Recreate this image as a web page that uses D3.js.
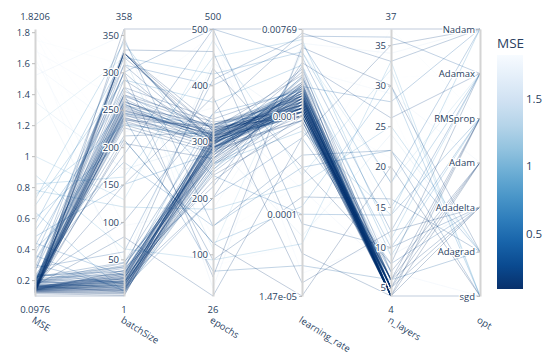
<!DOCTYPE html>
<html>
<head>
<meta charset="utf-8">
<script src="https://cdn.jsdelivr.net/npm/d3@7"></script>
<style>
  body { margin: 0; background: #fff; }
  text { font-family: "Open Sans", verdana, arial, sans-serif; fill: #2a3f5f; }
  .halo { paint-order: stroke; stroke: #fff; stroke-width: 2.5px; stroke-linejoin: round; }
</style>
</head>
<body>
<svg id="chart" width="550" height="355"></svg>
<script>
const dimensions = ["MSE", "batchSize", "epochs", "learning_rate", "n_layers", "opt"];
const optimizers = ["sgd", "Adagrad", "Adadelta", "Adam", "RMSprop", "Adamax", "Nadam"];
const lrTicks = [1.47e-05, 0.0001, 0.001, 0.00769];
const lrTickText = ["1.47e-05", "0.0001", "0.001", "0.00769"];
const colorbarTicks = [0.5, 1, 1.5];

// one entry per trial, same order in every array
const mse = [
  0.0976, 0.112, 0.118, 0.121, 0.124, 0.126, 0.128, 0.130, 0.131, 0.133,
  0.134, 0.135, 0.136, 0.137, 0.138, 0.139, 0.140, 0.141, 0.142, 0.143,
  0.144, 0.145, 0.146, 0.147, 0.148, 0.149, 0.150, 0.152, 0.154, 0.155,
  0.157, 0.158, 0.160, 0.162, 0.164, 0.166, 0.168, 0.170, 0.173, 0.176,
  0.180, 0.183, 0.186, 0.190, 0.194, 0.198, 0.205, 0.212, 0.220, 0.230,
  0.105, 0.115, 0.120, 0.125, 0.128, 0.130, 0.132, 0.134, 0.136, 0.138,
  0.140, 0.142, 0.144, 0.146, 0.148, 0.150, 0.152, 0.155, 0.158, 0.160,
  0.163, 0.166, 0.170, 0.174, 0.178, 0.182, 0.186, 0.190, 0.195, 0.200,
  0.135, 0.140, 0.145, 0.125, 0.150, 0.130, 0.160, 0.120, 0.175, 0.210,
  0.22, 0.24, 0.26, 0.28, 0.30, 0.33, 0.36, 0.40, 0.44, 0.48,
  0.52, 0.56, 0.60, 0.64, 0.68, 0.72, 0.75, 0.78, 0.82, 0.88,
  0.115, 0.125, 0.135, 0.145, 0.155, 0.165, 0.175, 0.185, 0.195, 0.21,
  0.23, 0.25, 0.28, 0.32, 0.36, 0.42, 1.00, 1.20, 1.35, 1.45,
  1.52, 1.58, 1.63, 1.68, 1.72, 1.75, 1.78, 1.80, 1.81, 1.8206
];
const batchSize = [
  1, 2, 4, 5, 6, 8, 8, 10, 10, 12,
  12, 14, 15, 16, 16, 18, 18, 20, 20, 22,
  22, 24, 24, 25, 26, 28, 28, 30, 30, 32,
  8, 12, 16, 20, 24, 6, 14, 18, 26, 32,
  35, 38, 40, 42, 45, 10, 20, 30, 46, 34,
  326, 326, 326, 240, 250, 235, 260, 245, 255, 265,
  230, 248, 238, 270, 252, 326, 242, 258, 236, 262,
  226, 246, 254, 268, 326, 280, 300, 215, 232, 244,
  256, 290, 310, 320, 205, 249, 326, 239, 275, 261,
  40, 18, 270, 300, 12, 245, 310, 180, 28, 150,
  258, 320, 210, 6, 290, 340, 230, 120, 160, 64,
  358, 210, 35, 300, 150, 80, 330, 20, 270, 100,
  190, 345, 60, 240, 8, 280, 130, 320, 170, 45,
  350, 220, 95, 260, 15, 310, 140, 200, 75, 250
];
const epochs = [
  310, 295, 280, 300, 320, 270, 290, 305, 285, 315,
  260, 298, 275, 310, 250, 288, 302, 240, 295, 318,
  265, 282, 308, 292, 230, 300, 276, 312, 286, 296,
  255, 304, 270, 290, 325, 245, 280, 300, 315, 268,
  290, 220, 305, 285, 330, 275, 298, 310, 262, 288,
  320, 305, 330, 298, 312, 290, 325, 308, 315, 300,
  285, 318, 295, 335, 310, 300, 322, 290, 328, 306,
  280, 314, 302, 326, 296, 340, 288, 316, 304, 292,
  330, 310, 300, 320, 270, 312, 298, 306, 324, 316,
  290, 260, 310, 500, 200, 330, 400, 150, 350, 280,
  300, 420, 120, 250, 370, 260, 310, 180, 450, 90,
  500, 120, 430, 60, 380, 26, 460, 200, 90, 350,
  500, 150, 410, 70, 320, 240, 480, 110, 300, 440,
  40, 360, 180, 490, 260, 130, 400, 80, 340, 220
];
const learningRate = [
  0.0012, 0.0015, 0.0010, 0.0018, 0.0013, 0.0021, 0.0011, 0.0016, 0.0009, 0.0014,
  0.0017, 0.0012, 0.0025, 0.0010, 0.0019, 0.0013, 0.0015, 0.0008, 0.0020, 0.0011,
  0.0014, 0.0016, 0.0012, 0.0028, 0.0010, 0.0017, 0.0013, 0.0015, 0.0022, 0.0011,
  0.0019, 0.0012, 0.0014, 0.0009, 0.0016, 0.0013, 0.0024, 0.0011, 0.0018, 0.0015,
  0.0012, 0.0032, 0.0010, 0.0014, 0.0017, 0.0020, 0.0013, 0.0016, 0.0011, 0.0015,
  0.0013, 0.0011, 0.0016, 0.0012, 0.0019, 0.0014, 0.0010, 0.0017, 0.0013, 0.0022,
  0.0015, 0.0012, 0.0018, 0.0011, 0.0014, 0.0016, 0.0026, 0.0012, 0.0015, 0.0010,
  0.0020, 0.0013, 0.0017, 0.0011, 0.0014, 0.0019, 0.0012, 0.0016, 0.0030, 0.0013,
  0.0015, 0.0011, 0.0018, 0.0014, 0.0021, 0.0012, 0.0016, 0.0013, 0.0010, 0.0017,
  0.0015, 0.0009, 0.0021, 0.004, 0.0006, 0.0012, 0.0055, 0.0003, 0.0018, 0.0025,
  0.0011, 0.0045, 0.00012, 0.0014, 0.0033, 0.0007, 0.0019, 0.0002, 0.006, 0.00005,
  0.00769, 1.47e-05, 0.0003, 0.005, 0.00002, 0.0006, 0.00004, 0.0035, 0.00015, 0.007,
  0.00008, 0.0004, 0.0065, 0.00003, 0.002, 0.0001, 0.00025, 0.0045, 0.00006, 0.0008,
  0.0055, 0.00018, 0.003, 0.000025, 0.0012, 0.0002, 0.006, 0.00005, 0.0004, 0.0024
];
const nLayers = [
  4, 5, 4, 4, 5, 6, 4, 5, 4, 4,
  5, 4, 6, 4, 5, 4, 4, 5, 4, 6,
  4, 5, 4, 4, 7, 5, 4, 4, 5, 4,
  6, 4, 5, 4, 4, 5, 4, 6, 4, 5,
  4, 5, 4, 4, 5, 4, 6, 4, 5, 4,
  4, 5, 4, 4, 5, 4, 6, 4, 5, 4,
  4, 5, 4, 6, 4, 4, 5, 4, 4, 5,
  6, 4, 4, 5, 4, 4, 5, 4, 7, 4,
  5, 4, 4, 6, 4, 5, 4, 4, 5, 4,
  5, 6, 4, 12, 8, 5, 18, 22, 7, 10,
  4, 15, 30, 6, 9, 14, 5, 25, 11, 33,
  37, 20, 8, 30, 12, 35, 4, 26, 16, 33,
  10, 22, 36, 6, 28, 14, 32, 18, 24, 9,
  34, 7, 29, 11, 21, 37, 13, 27, 19, 31
];
// index into optimizers
const opt = [
  3, 4, 3, 3, 4, 3, 4, 3, 3, 4,
  3, 2, 3, 4, 3, 3, 4, 3, 4, 3,
  3, 4, 3, 2, 3, 4, 3, 3, 4, 3,
  4, 3, 3, 4, 3, 2, 3, 4, 3, 3,
  4, 3, 3, 4, 3, 3, 2, 4, 3, 3,
  4, 3, 3, 4, 3, 3, 4, 3, 3, 2,
  3, 4, 3, 3, 4, 3, 3, 4, 3, 3,
  2, 3, 4, 3, 3, 4, 3, 3, 3, 4,
  3, 3, 4, 3, 2, 3, 4, 3, 3, 4,
  3, 4, 3, 5, 2, 4, 6, 1, 3, 4,
  3, 5, 0, 2, 4, 6, 3, 1, 5, 0,
  6, 0, 5, 1, 2, 6, 0, 5, 1, 6,
  2, 0, 5, 1, 6, 4, 0, 5, 1, 2,
  6, 0, 3, 5, 1, 4, 6, 0, 2, 5
];

const yTop = 29, yBottom = 296;
const lineOpacity = 0.25;
const svg = d3.select("#chart");

const x = d3.scalePoint().domain(dimensions).range([35, 480]);

const columns = {
  MSE: mse,
  batchSize: batchSize,
  epochs: epochs,
  learning_rate: learningRate,
  n_layers: nLayers,
  opt: opt
};

const y = {
  MSE: d3.scaleLinear().domain(d3.extent(mse)).range([yBottom, yTop]),
  batchSize: d3.scaleLinear().domain(d3.extent(batchSize)).range([yBottom, yTop]),
  epochs: d3.scaleLinear().domain(d3.extent(epochs)).range([yBottom, yTop]),
  learning_rate: d3.scaleLog().domain(d3.extent(learningRate)).range([yBottom, yTop]),
  n_layers: d3.scaleLinear().domain(d3.extent(nLayers)).range([yBottom, yTop]),
  opt: d3.scaleLinear().domain([0, optimizers.length - 1]).range([yBottom, yTop])
};

const color = d3.scaleSequential(t => d3.interpolateBlues(1 - t)).domain(d3.extent(mse));

// draw pale lines first so the low-MSE ones sit on top
const order = d3.range(mse.length).sort((a, b) => mse[b] - mse[a]);

const line = d3.line();
const pointsFor = (i, dims) => dims.map(d => [x(d), y[d](columns[d][i])]);

const lines = svg.append("g").attr("fill", "none").attr("stroke-width", 1);

lines.selectAll("path.main")
  .data(order)
  .enter()
  .append("path")
  .attr("class", "main")
  .attr("d", i => line(pointsFor(i, dimensions.slice(0, 5))))
  .attr("stroke", i => color(mse[i]))
  .attr("stroke-opacity", lineOpacity);

// last panel: integer -> category, identical segments drawn only once
const lastPanel = d3.groups(order, i => nLayers[i] + "|" + opt[i])
  .map(([, idx]) => d3.least(idx, i => mse[i]));

lines.selectAll("path.last")
  .data(lastPanel)
  .enter()
  .append("path")
  .attr("class", "last")
  .attr("d", i => line(pointsFor(i, dimensions.slice(4))))
  .attr("stroke", i => color(mse[i]))
  .attr("stroke-opacity", lineOpacity);

// axes
const showRange = { MSE: true, batchSize: true, epochs: true, learning_rate: false, n_layers: true, opt: false };
const tickCounts = { MSE: 10, batchSize: 8, epochs: 5, n_layers: 7 };

dimensions.forEach(dim => {
  let axis = d3.axisLeft(y[dim]).tickSize(3).tickSizeOuter(0);
  if (dim === "learning_rate") {
    axis.tickValues(lrTicks).tickFormat((d, i) => lrTickText[i]);
  } else if (dim === "opt") {
    axis.tickValues(d3.range(optimizers.length)).tickFormat(d => optimizers[d]);
  } else {
    axis.ticks(tickCounts[dim]).tickFormat(d3.format("~g"));
  }

  const g = svg.append("g")
    .attr("transform", "translate(" + x(dim) + ",0)")
    .call(axis);

  g.select(".domain").attr("stroke", "#d4d4d4").attr("stroke-width", 2);
  g.selectAll(".tick line").attr("stroke", "#bbb");
  g.selectAll(".tick text")
    .attr("class", "halo")
    .attr("x", -5)
    .style("font-size", "9.5px");

  if (showRange[dim]) {
    const ext = y[dim].domain();
    g.append("text")
      .attr("y", 20)
      .attr("text-anchor", "middle")
      .style("font-size", "9.5px")
      .text(String(ext[1]));
    g.append("text")
      .attr("y", 313)
      .attr("text-anchor", "middle")
      .style("font-size", "9.5px")
      .text(String(ext[0]));
  }

  g.append("text")
    .attr("transform", "translate(0,316) rotate(32)")
    .attr("dy", "0.72em")
    .attr("text-anchor", "start")
    .style("font-size", "9.5px")
    .text(dim);
});

// colorbar
const cbX = 497, cbW = 26, cbTop = 55, cbBottom = 289;
const cbY = d3.scaleLinear().domain(d3.extent(mse)).range([cbBottom, cbTop]);
const [cMin, cMax] = color.domain();

const grad = svg.append("defs").append("linearGradient")
  .attr("id", "cbGrad")
  .attr("x1", 0).attr("y1", 1).attr("x2", 0).attr("y2", 0);
d3.range(0, 1.0001, 0.1).forEach(t => {
  grad.append("stop")
    .attr("offset", t)
    .attr("stop-color", color(cMin + t * (cMax - cMin)));
});

svg.append("rect")
  .attr("x", cbX)
  .attr("y", cbTop)
  .attr("width", cbW)
  .attr("height", cbBottom - cbTop)
  .attr("fill", "url(#cbGrad)");

svg.selectAll("text.cbtick")
  .data(colorbarTicks)
  .enter()
  .append("text")
  .attr("class", "cbtick")
  .attr("x", cbX + cbW + 3)
  .attr("y", d => cbY(d))
  .attr("dy", "0.35em")
  .style("font-size", "11.5px")
  .text(d => d3.format("~g")(d));

svg.append("text")
  .attr("x", cbX)
  .attr("y", 48)
  .style("font-size", "13.5px")
  .text("MSE");
</script>
</body>
</html>
